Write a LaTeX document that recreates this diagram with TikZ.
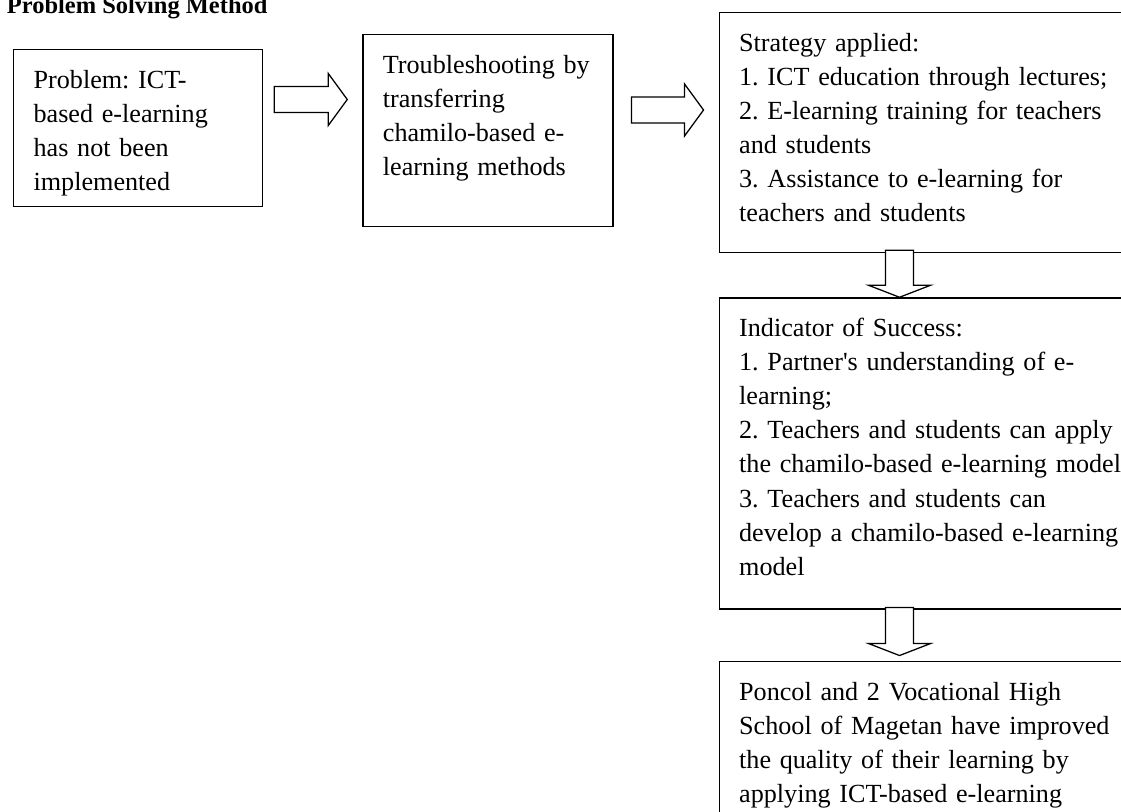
\documentclass[tikz,border=0pt]{standalone}
\usepackage{fontspec}
\setmainfont{Liberation Serif}
\usetikzlibrary{positioning}
\usetikzlibrary{calc}
\frenchspacing
\tikzset{
  stage/.style={draw, line width=0.9pt, anchor=north west, align=left, inner xsep=0.5cm, inner ysep=0.525cm, text height=0.45cm, font=\fontsize{18.6}{24.2}\selectfont},
  rarr/.style={draw, line width=0.9pt, fill=white, to path={
      ([yshift=0.325cm]\tikztostart) -- ([xshift=-0.475cm,yshift=0.325cm]\tikztotarget)
      -- ([xshift=-0.475cm,yshift=0.65cm]\tikztotarget) -- (\tikztotarget)
      -- ([xshift=-0.475cm,yshift=-0.65cm]\tikztotarget) -- ([xshift=-0.475cm,yshift=-0.325cm]\tikztotarget)
      -- ([yshift=-0.325cm]\tikztostart) -- cycle}},
  darr/.style={draw, line width=0.9pt, fill=white, to path={
      ([xshift=-0.35cm]\tikztostart) -- ([xshift=-0.35cm,yshift=0.3cm]\tikztotarget)
      -- ([xshift=-0.775cm,yshift=0.3cm]\tikztotarget) -- (\tikztotarget)
      -- ([xshift=0.775cm,yshift=0.3cm]\tikztotarget) -- ([xshift=0.35cm,yshift=0.3cm]\tikztotarget)
      -- ([xshift=0.35cm]\tikztostart) -- cycle}}
}

\begin{document}
\begin{tikzpicture}
    %\draw [help lines] (0, 0) grid (28, -20);
    \useasboundingbox (0,0) rectangle (28.025,-20.3);
    \clip (0,0) rectangle (28.025,-20.3);

    \node [anchor=base west, font=\fontsize{17.4}{20}\selectfont\bfseries] (title) at (0.05,-0.35) {Problem Solving Method};

    \node [stage, text width=5.225cm, text depth=2.425cm] (prob) at (0.325,-1.225) {Problem: ICT-\\based e-learning\\has not been\\implemented};
    \node [stage, text width=5.25cm, text depth=3.3cm, below right = -0.375cm and 2.475cm of prob.north east] (trouble) {Troubleshooting by\\transferring\\chamilo-based e-\\learning methods};
    \node [stage, text width=10cm, text depth=4.5cm, below right = -0.55cm and 2.625cm of trouble.north east] (strat) {Strategy applied:\\1. ICT education through lectures;\\2. E-learning training for teachers\\and students\\3. Assistance to e-learning for\\teachers and students};
    \node [stage, text width=10cm, text depth=6.275cm, below right = 1.1cm and 0cm of strat.south west] (indic) {Indicator of Success:\\1. Partner\textquotesingle s understanding of e-\\learning;\\2. Teachers and students can apply\\the chamilo-based e-learning model\\3. Teachers and students can\\develop a chamilo-based e-learning\\model};
    \node [stage, text width=10cm, text depth=4.5cm, below right = 1.275cm and 0cm of indic.south west] (result) {Poncol and 2 Vocational High\\School of Magetan have improved\\the quality of their learning by\\applying ICT-based e-learning};

    \coordinate [below right = 1.2625cm and 0.275cm of prob.north east] (arr1_s);
    \coordinate (arr1_e) at ($(arr1_s -| trouble.west) + (-0.375,0)$);
    \coordinate [below right = 1.9cm and 0.45cm of trouble.north east] (arr2_s);
    \coordinate (arr2_e) at ($(arr2_s -| strat.west) + (-0.375,0)$);
    \coordinate [above right = 0.075cm and 4.525cm of strat.south west] (arr3_s);
    \coordinate (arr3_e) at (arr3_s |- indic.north);
    \coordinate (arr4_s) at ($(arr3_s |- indic.south) + (0,0.05)$);
    \coordinate (arr4_e) at ($(arr3_s |- result.north) + (0,0.125)$);

    \draw [rarr] (arr1_s) to (arr1_e);
    \draw [rarr] (arr2_s) to (arr2_e);
    \draw [darr] (arr3_s) to (arr3_e);
    \draw [darr] (arr4_s) to (arr4_e);

\end{tikzpicture}
\end{document}
